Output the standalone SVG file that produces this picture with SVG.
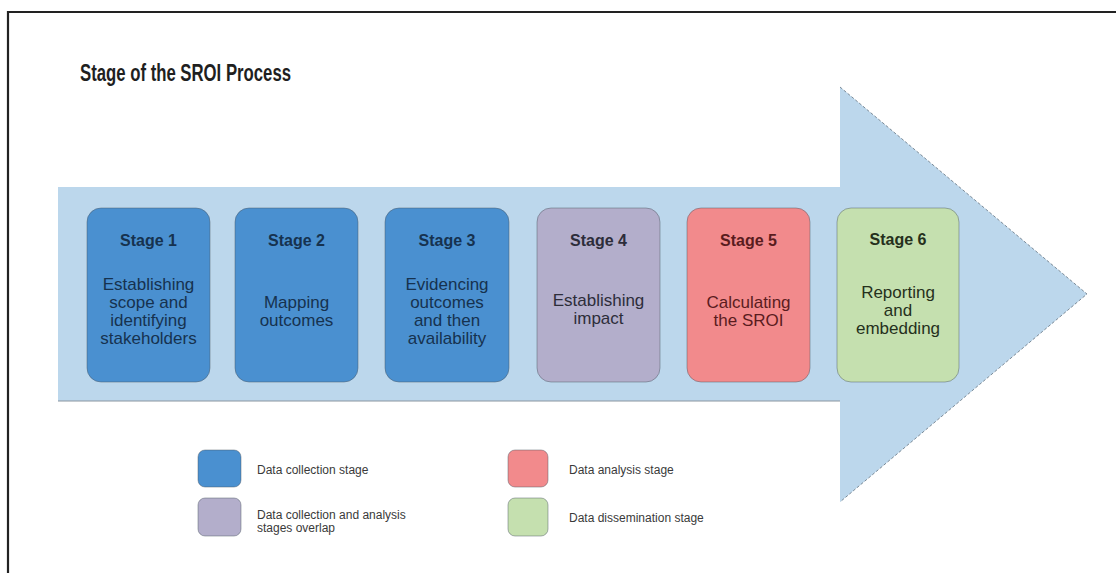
<svg xmlns="http://www.w3.org/2000/svg" width="1116" height="573" viewBox="0 0 1116 573">
  <style>
    .title { font-family: "Liberation Sans", Arial, sans-serif; font-weight: bold; font-size: 23px; fill: #1f1f1f; }
    .head { font-family: "Liberation Sans", Arial, sans-serif; font-weight: bold; font-size: 16px; text-anchor: middle; }
    .body { font-family: "Liberation Sans", Arial, sans-serif; font-size: 17px; text-anchor: middle; }
    .leg { font-family: "Liberation Sans", Arial, sans-serif; font-size: 12px; fill: #3a3a3a; }
    .box { stroke: #4a5560; stroke-opacity: 0.45; stroke-width: 1; }
    .blue { fill: #4a90d0; }
    .lav { fill: #b3aecb; }
    .red { fill: #f28a8c; }
    .green { fill: #c5e0af; }
    .tblue { fill: #16324f; }
    .tlav { fill: #2d2d3a; }
    .tred { fill: #5a1c1e; }
    .tgreen { fill: #25301c; }
  </style>

  <!-- background and frame -->
  <rect x="0" y="0" width="1116" height="573" fill="#ffffff"/>
  <path d="M8,573 V12 H1116" fill="none" stroke="#222222" stroke-width="2.2"/>

  <text class="title" x="80" y="81" textLength="211" lengthAdjust="spacingAndGlyphs">Stage of the SROI Process</text>

  <!-- big process arrow -->
  <g id="arrow">
    <polygon points="58,187 840,187 840,87 1087,294 840,502 840,401 58,401" fill="#bcd7ec"/>
    <path d="M840,87 L1087,294 L840,502" fill="none" stroke="#6f7f8c" stroke-width="0.9" stroke-dasharray="3 2"/>
    <line x1="58" y1="401" x2="840" y2="401" stroke="#8a96a0" stroke-width="1.2"/>
  </g>

  <!-- stages -->
  <g id="stage1">
    <rect class="box blue" x="87" y="208" width="123" height="174" rx="14"/>
    <text class="head tblue" x="148.5" y="246">Stage 1</text>
    <text class="body tblue" x="148.5" y="290">Establishing</text>
    <text class="body tblue" x="148.5" y="308">scope and</text>
    <text class="body tblue" x="148.5" y="326">identifying</text>
    <text class="body tblue" x="148.5" y="344">stakeholders</text>
  </g>
  <g id="stage2">
    <rect class="box blue" x="235" y="208" width="123" height="174" rx="14"/>
    <text class="head tblue" x="296.5" y="246">Stage 2</text>
    <text class="body tblue" x="296.5" y="308">Mapping</text>
    <text class="body tblue" x="296.5" y="326">outcomes</text>
  </g>
  <g id="stage3">
    <rect class="box blue" x="385" y="208" width="124" height="174" rx="14"/>
    <text class="head tblue" x="447" y="246">Stage 3</text>
    <text class="body tblue" x="447" y="290">Evidencing</text>
    <text class="body tblue" x="447" y="308">outcomes</text>
    <text class="body tblue" x="447" y="326">and then</text>
    <text class="body tblue" x="447" y="344">availability</text>
  </g>
  <g id="stage4">
    <rect class="box lav" x="537" y="208" width="123" height="174" rx="14"/>
    <text class="head tlav" x="598.5" y="246">Stage 4</text>
    <text class="body tlav" x="598.5" y="306">Establishing</text>
    <text class="body tlav" x="598.5" y="324">impact</text>
  </g>
  <g id="stage5">
    <rect class="box red" x="687" y="208" width="123" height="174" rx="14"/>
    <text class="head tred" x="748.5" y="246">Stage 5</text>
    <text class="body tred" x="748.5" y="308">Calculating</text>
    <text class="body tred" x="748.5" y="326">the SROI</text>
  </g>
  <g id="stage6">
    <rect class="box green" x="837" y="208" width="122" height="174" rx="14"/>
    <text class="head tgreen" x="898" y="245">Stage 6</text>
    <text class="body tgreen" x="898" y="298">Reporting</text>
    <text class="body tgreen" x="898" y="316">and</text>
    <text class="body tgreen" x="898" y="334">embedding</text>
  </g>

  <!-- legend -->
  <g id="legend-collection">
    <rect class="box blue" x="198" y="450" width="43" height="37" rx="7"/>
    <text class="leg" x="257" y="474">Data collection stage</text>
  </g>
  <g id="legend-overlap">
    <rect class="box lav" x="198" y="498" width="43" height="38" rx="7"/>
    <text class="leg" x="257" y="519">Data collection and analysis</text>
    <text class="leg" x="257" y="532">stages overlap</text>
  </g>
  <g id="legend-analysis">
    <rect class="box red" x="508" y="450" width="40" height="37" rx="7"/>
    <text class="leg" x="569" y="474">Data analysis stage</text>
  </g>
  <g id="legend-dissemination">
    <rect class="box green" x="508" y="498" width="40" height="38" rx="7"/>
    <text class="leg" x="569" y="522">Data dissemination stage</text>
  </g>
</svg>
